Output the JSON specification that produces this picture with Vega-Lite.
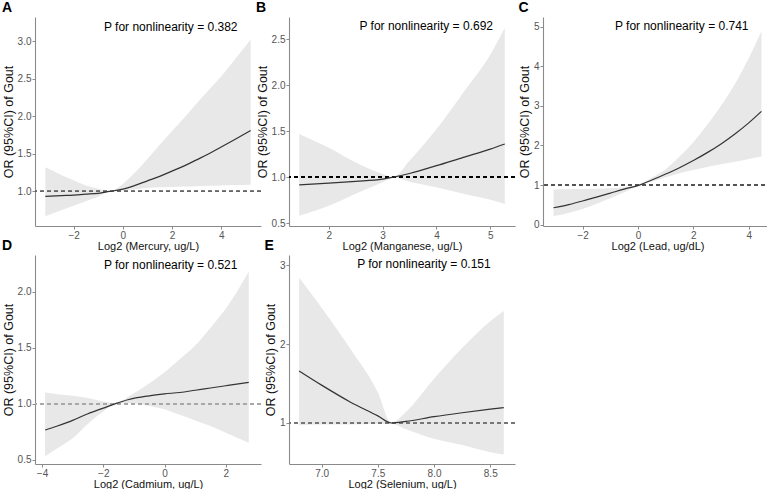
{
  "$schema": "https://vega.github.io/schema/vega-lite/v6.json",
  "padding": {"left": 2, "top": 1, "right": 0, "bottom": 0},
  "background": "white",
  "config": {
    "font": "Liberation Sans",
    "view": {"stroke": null},
    "axis": {"grid": false, "domainColor": "#8a8a8a", "domainWidth": 1.1, "tickColor": "#8a8a8a", "tickSize": 3, "labelColor": "#555555", "labelFontSize": 10, "labelPadding": 1, "titleColor": "#111111", "titleFontWeight": "normal", "titleFontSize": 11, "titlePadding": 0},
    "axisY": {"titleFontSize": 12.5, "titlePadding": 2},
    "title": {"anchor": "start", "frame": "bounds", "fontSize": 14, "fontWeight": "bold", "offset": 2, "color": "#000000"}
  },
  "columns": 3,
  "bounds": "flush",
  "spacing": {"row": 29, "column": 28},
  "concat": [
    {
      "width": 226, "height": 209,
      "title": {"text": "A"},
      "data": {"values": [
        {"x": -3.15, "est": 0.934, "lo": 0.67, "hi": 1.32},
        {"x": -2.5, "est": 0.945, "lo": 0.75, "hi": 1.22},
        {"x": -2, "est": 0.952, "lo": 0.81, "hi": 1.15},
        {"x": -1.5, "est": 0.963, "lo": 0.87, "hi": 1.08},
        {"x": -1, "est": 0.975, "lo": 0.93, "hi": 1.035},
        {"x": -0.55, "est": 1.0, "lo": 0.995, "hi": 1.005},
        {"x": 0, "est": 1.03, "lo": 1.01, "hi": 1.1},
        {"x": 0.5, "est": 1.08, "lo": 1.03, "hi": 1.25},
        {"x": 1, "est": 1.14, "lo": 1.045, "hi": 1.43},
        {"x": 1.5, "est": 1.2, "lo": 1.055, "hi": 1.62},
        {"x": 2, "est": 1.27, "lo": 1.06, "hi": 1.8},
        {"x": 2.5, "est": 1.34, "lo": 1.065, "hi": 1.98},
        {"x": 3, "est": 1.42, "lo": 1.07, "hi": 2.17},
        {"x": 3.5, "est": 1.5, "lo": 1.075, "hi": 2.35},
        {"x": 4, "est": 1.59, "lo": 1.08, "hi": 2.53},
        {"x": 4.5, "est": 1.68, "lo": 1.085, "hi": 2.73},
        {"x": 5.2, "est": 1.81, "lo": 1.09, "hi": 3.02}
      ]},
      "layer": [
        {"mark": {"type": "area", "color": "#e8e8e8", "interpolate": "monotone"},
         "encoding": {
           "x": {"field": "x", "type": "quantitative", "scale": {"domain": [-3.57, 5.62], "nice": false, "zero": false}, "axis": {"values": [-2, 0, 2, 4], "title": "Log2 (Mercury, ug/L)"}},
           "y": {"field": "lo", "type": "quantitative", "scale": {"domain": [0.54, 3.32], "nice": false, "zero": false}, "axis": {"values": [1, 1.5, 2, 2.5, 3], "format": ".1f", "title": "OR (95%CI) of Gout"}},
           "y2": {"field": "hi"}}},
        {"mark": {"type": "rule", "strokeDash": [4, 3], "color": "#666666", "strokeWidth": 1}, "encoding": {"y": {"datum": 1}}},
        {"mark": {"type": "line", "color": "#333333", "strokeWidth": 1.2, "interpolate": "monotone"},
         "encoding": {"x": {"field": "x", "type": "quantitative"}, "y": {"field": "est", "type": "quantitative"}}},
        {"data": {"values": [{"x": 1.95, "y": 3.19, "label": "P for nonlinearity = 0.382"}]},
         "mark": {"type": "text", "fontSize": 12, "align": "center", "baseline": "middle", "color": "#000000"},
         "encoding": {"x": {"field": "x", "type": "quantitative"}, "y": {"field": "y", "type": "quantitative"}, "text": {"field": "label"}}}
      ]
    },
    {
      "width": 226, "height": 209,
      "title": {"text": "B"},
      "data": {"values": [
        {"x": 1.45, "est": 0.917, "lo": 0.58, "hi": 1.47},
        {"x": 2.0, "est": 0.935, "lo": 0.69, "hi": 1.32},
        {"x": 2.5, "est": 0.955, "lo": 0.82, "hi": 1.16},
        {"x": 3.0, "est": 0.98, "lo": 0.946, "hi": 1.035},
        {"x": 3.2, "est": 1.0, "lo": 0.997, "hi": 1.003},
        {"x": 3.5, "est": 1.04, "lo": 0.95, "hi": 1.18},
        {"x": 4.0, "est": 1.125, "lo": 0.89, "hi": 1.52},
        {"x": 4.5, "est": 1.216, "lo": 0.82, "hi": 1.92},
        {"x": 5.0, "est": 1.305, "lo": 0.755, "hi": 2.33},
        {"x": 5.27, "est": 1.36, "lo": 0.71, "hi": 2.62}
      ]},
      "layer": [
        {"mark": {"type": "area", "color": "#e8e8e8", "interpolate": "monotone"},
         "encoding": {
           "x": {"field": "x", "type": "quantitative", "scale": {"domain": [1.26, 5.46], "nice": false, "zero": false}, "axis": {"values": [2, 3, 4, 5], "format": "d", "title": "Log2 (Manganese, ug/L)"}},
           "y": {"field": "lo", "type": "quantitative", "scale": {"domain": [0.47, 2.74], "nice": false, "zero": false}, "axis": {"values": [0.5, 1, 1.5, 2, 2.5], "format": ".1f", "title": "OR (95%CI) of Gout"}},
           "y2": {"field": "hi"}}},
        {"mark": {"type": "rule", "strokeDash": [4, 3], "color": "#000000", "strokeWidth": 1.5}, "encoding": {"y": {"datum": 1}}},
        {"mark": {"type": "line", "color": "#333333", "strokeWidth": 1.2, "interpolate": "monotone"},
         "encoding": {"x": {"field": "x", "type": "quantitative"}, "y": {"field": "est", "type": "quantitative"}}},
        {"data": {"values": [{"x": 3.81, "y": 2.64, "label": "P for nonlinearity = 0.692"}]},
         "mark": {"type": "text", "fontSize": 12, "align": "center", "baseline": "middle", "color": "#000000"},
         "encoding": {"x": {"field": "x", "type": "quantitative"}, "y": {"field": "y", "type": "quantitative"}, "text": {"field": "label"}}}
      ]
    },
    {
      "width": 229, "height": 209,
      "title": {"text": "C"},
      "data": {"values": [
        {"x": -3.05, "est": 0.43, "lo": 0.22, "hi": 0.89},
        {"x": -2.5, "est": 0.51, "lo": 0.3, "hi": 0.895},
        {"x": -2, "est": 0.6, "lo": 0.4, "hi": 0.9},
        {"x": -1.5, "est": 0.7, "lo": 0.53, "hi": 0.91},
        {"x": -1, "est": 0.8, "lo": 0.67, "hi": 0.92},
        {"x": -0.5, "est": 0.9, "lo": 0.82, "hi": 0.95},
        {"x": 0.05, "est": 1.0, "lo": 0.99, "hi": 1.01},
        {"x": 0.5, "est": 1.13, "lo": 1.09, "hi": 1.19},
        {"x": 1, "est": 1.28, "lo": 1.2, "hi": 1.4},
        {"x": 1.5, "est": 1.44, "lo": 1.3, "hi": 1.72},
        {"x": 2, "est": 1.62, "lo": 1.38, "hi": 2.08},
        {"x": 2.5, "est": 1.82, "lo": 1.46, "hi": 2.52},
        {"x": 3, "est": 2.04, "lo": 1.53, "hi": 3.0},
        {"x": 3.5, "est": 2.29, "lo": 1.59, "hi": 3.55},
        {"x": 4, "est": 2.57, "lo": 1.66, "hi": 4.2},
        {"x": 4.46, "est": 2.86, "lo": 1.72, "hi": 4.88}
      ]},
      "layer": [
        {"mark": {"type": "area", "color": "#e8e8e8", "interpolate": "monotone"},
         "encoding": {
           "x": {"field": "x", "type": "quantitative", "scale": {"domain": [-3.43, 4.84], "nice": false, "zero": false}, "axis": {"values": [-2, 0, 2, 4], "title": "Log2 (Lead, ug/dL)"}},
           "y": {"field": "lo", "type": "quantitative", "scale": {"domain": [-0.03, 5.24], "nice": false, "zero": false}, "axis": {"values": [0, 1, 2, 3, 4, 5], "format": "d", "title": "OR (95%CI) of Gout"}},
           "y2": {"field": "hi"}}},
        {"mark": {"type": "rule", "strokeDash": [4, 3], "color": "#555555", "strokeWidth": 1}, "encoding": {"y": {"datum": 1}}},
        {"mark": {"type": "line", "color": "#333333", "strokeWidth": 1.2, "interpolate": "monotone"},
         "encoding": {"x": {"field": "x", "type": "quantitative"}, "y": {"field": "est", "type": "quantitative"}}},
        {"data": {"values": [{"x": 1.58, "y": 5.01, "label": "P for nonlinearity = 0.741"}]},
         "mark": {"type": "text", "fontSize": 12, "align": "center", "baseline": "middle", "color": "#000000"},
         "encoding": {"x": {"field": "x", "type": "quantitative"}, "y": {"field": "y", "type": "quantitative"}, "text": {"field": "label"}}}
      ]
    },
    {
      "width": 226, "height": 209,
      "title": {"text": "D"},
      "data": {"values": [
        {"x": -3.9, "est": 0.764, "lo": 0.53, "hi": 1.1},
        {"x": -3.5, "est": 0.8, "lo": 0.6, "hi": 1.085},
        {"x": -3, "est": 0.85, "lo": 0.69, "hi": 1.07},
        {"x": -2.5, "est": 0.91, "lo": 0.82, "hi": 1.05},
        {"x": -2, "est": 0.96, "lo": 0.93, "hi": 1.02},
        {"x": -1.6, "est": 1.0, "lo": 0.995, "hi": 1.005},
        {"x": -1.2, "est": 1.035, "lo": 1.005, "hi": 1.06},
        {"x": -0.5, "est": 1.07, "lo": 0.98, "hi": 1.18},
        {"x": 0, "est": 1.087, "lo": 0.95, "hi": 1.28},
        {"x": 0.5, "est": 1.1, "lo": 0.9, "hi": 1.4},
        {"x": 1, "est": 1.12, "lo": 0.85, "hi": 1.52},
        {"x": 1.5, "est": 1.14, "lo": 0.8, "hi": 1.68},
        {"x": 2, "est": 1.16, "lo": 0.74, "hi": 1.85},
        {"x": 2.75, "est": 1.19, "lo": 0.65, "hi": 2.18}
      ]},
      "layer": [
        {"mark": {"type": "area", "color": "#e8e8e8", "interpolate": "monotone"},
         "encoding": {
           "x": {"field": "x", "type": "quantitative", "scale": {"domain": [-4.23, 3.15], "nice": false, "zero": false}, "axis": {"values": [-4, -2, 0, 2], "title": "Log2 (Cadmium, ug/L)"}},
           "y": {"field": "lo", "type": "quantitative", "scale": {"domain": [0.46, 2.33], "nice": false, "zero": false}, "axis": {"values": [0.5, 1, 1.5, 2], "format": ".1f", "title": "OR (95%CI) of Gout"}},
           "y2": {"field": "hi"}}},
        {"mark": {"type": "rule", "strokeDash": [4, 3], "color": "#a8a8a8", "strokeWidth": 1.5}, "encoding": {"y": {"datum": 1}}},
        {"mark": {"type": "line", "color": "#333333", "strokeWidth": 1.2, "interpolate": "monotone"},
         "encoding": {"x": {"field": "x", "type": "quantitative"}, "y": {"field": "est", "type": "quantitative"}}},
        {"data": {"values": [{"x": 0.2, "y": 2.24, "label": "P for nonlinearity = 0.521"}]},
         "mark": {"type": "text", "fontSize": 12, "align": "center", "baseline": "middle", "color": "#000000"},
         "encoding": {"x": {"field": "x", "type": "quantitative"}, "y": {"field": "y", "type": "quantitative"}, "text": {"field": "label"}}}
      ]
    },
    {
      "width": 226, "height": 209,
      "title": {"text": "E"},
      "data": {"values": [
        {"x": 6.8, "est": 1.66, "lo": 0.97, "hi": 2.84},
        {"x": 7.0, "est": 1.48, "lo": 0.98, "hi": 2.46},
        {"x": 7.25, "est": 1.27, "lo": 0.98, "hi": 1.95},
        {"x": 7.5, "est": 1.09, "lo": 0.99, "hi": 1.39},
        {"x": 7.62, "est": 1.0, "lo": 0.995, "hi": 1.005},
        {"x": 7.75, "est": 1.02, "lo": 0.92, "hi": 1.14},
        {"x": 8.0, "est": 1.08, "lo": 0.8, "hi": 1.56},
        {"x": 8.25, "est": 1.13, "lo": 0.72, "hi": 1.95},
        {"x": 8.5, "est": 1.175, "lo": 0.63, "hi": 2.29},
        {"x": 8.62, "est": 1.195, "lo": 0.6, "hi": 2.42}
      ]},
      "layer": [
        {"mark": {"type": "area", "color": "#e8e8e8", "interpolate": "monotone"},
         "encoding": {
           "x": {"field": "x", "type": "quantitative", "scale": {"domain": [6.71, 8.72], "nice": false, "zero": false}, "axis": {"values": [7, 7.5, 8, 8.5], "format": ".1f", "title": "Log2 (Selenium, ug/L)"}},
           "y": {"field": "lo", "type": "quantitative", "scale": {"domain": [0.48, 3.13], "nice": false, "zero": false}, "axis": {"values": [1, 2, 3], "format": "d", "title": "OR (95%CI) of Gout"}},
           "y2": {"field": "hi"}}},
        {"mark": {"type": "rule", "strokeDash": [4, 3], "color": "#777777", "strokeWidth": 1.2}, "encoding": {"y": {"datum": 1}}},
        {"mark": {"type": "line", "color": "#333333", "strokeWidth": 1.2, "interpolate": "monotone"},
         "encoding": {"x": {"field": "x", "type": "quantitative"}, "y": {"field": "est", "type": "quantitative"}}},
        {"data": {"values": [{"x": 7.91, "y": 3.01, "label": "P for nonlinearity = 0.151"}]},
         "mark": {"type": "text", "fontSize": 12, "align": "center", "baseline": "middle", "color": "#000000"},
         "encoding": {"x": {"field": "x", "type": "quantitative"}, "y": {"field": "y", "type": "quantitative"}, "text": {"field": "label"}}}
      ]
    }
  ]
}
